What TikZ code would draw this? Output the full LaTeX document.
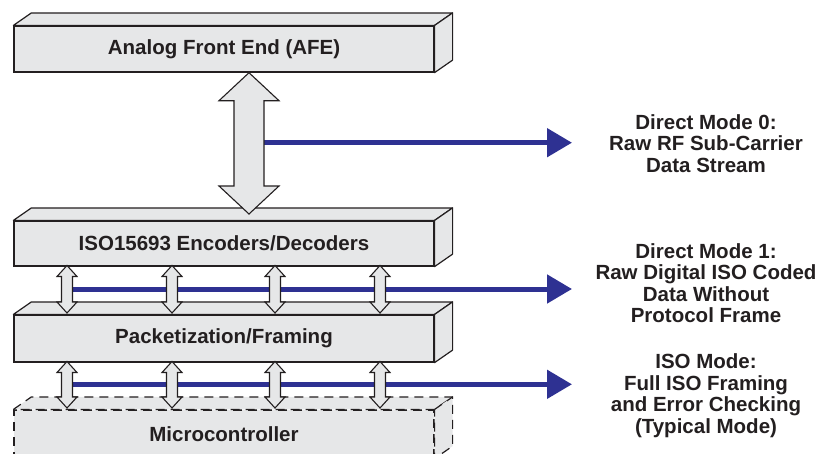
\documentclass[tikz,border=0pt]{standalone}
\usepackage{fontspec}
\setmainfont{Liberation Sans}
\usetikzlibrary{arrows.meta,calc}
\definecolor{facegray}{RGB}{230,231,232}
\definecolor{linkblue}{RGB}{46,49,146}
\definecolor{ink}{RGB}{35,31,32}
\newcommand\boxsides[2][side]{%
  \draw[#1] (#2.north west) -- ++(18,-12.5) -- ($(#2.north east)+(18,-12.5)$) -- (#2.north east) -- cycle;
  \draw[#1] (#2.north east) -- ++(18,-12.5) -- ($(#2.south east)+(18,-12.5)$) -- (#2.south east) -- cycle;}
\newcommand\dblarrow[6]{%
  \draw[dbl] (#1,#2) -- (#1+#5,#2+#6) -- (#1+#4,#2+#6) -- (#1+#4,#3-#6) -- (#1+#5,#3-#6) -- (#1,#3)
   -- (#1-#5,#3-#6) -- (#1-#4,#3-#6) -- (#1-#4,#2+#6) -- (#1-#5,#2+#6) -- cycle;}
\begin{document}
\begin{tikzpicture}[x=1pt,y=-1pt,
  face/.style={draw=ink, fill=facegray, line width=1.2pt, minimum width=420pt, inner sep=0pt,
    font=\fontsize{20.5}{22}\selectfont\bfseries, text=ink},
  side/.style={draw=ink, fill=facegray, line width=1.2pt, line join=round},
  dface/.style={face, dash pattern=on 9pt off 6pt},
  dside/.style={side, dash pattern=on 9pt off 6pt},
  dbl/.style={draw=ink, fill=facegray, line width=1.1pt},
  link/.style={draw=linkblue, line width=5pt, -{Triangle[length=25pt,width=28pt,fill=linkblue]}},
  lbl/.style={align=center, font=\fontsize{20.5}{21.5}\selectfont\bfseries, text=ink}]
\useasboundingbox (0,0) rectangle (822,453);

% boxes
\node[face, minimum height=46pt] (afe) at (224,49) {Analog Front End (AFE)};
\boxsides{afe}
\node[face, minimum height=45pt] (enc) at (224,243.5) {ISO15693 Encoders/Decoders};
\boxsides{enc}
\node[face, minimum height=47pt] (pack) at (224,338.5) {Packetization/Framing};
\boxsides{pack}
\node[dface, minimum height=48pt] (mcu) at (224,434) {Microcontroller};
\boxsides[dside]{mcu}

% right labels
\node[lbl] (m0) at (706,143.4) {Direct Mode 0:\\Raw RF Sub-Carrier\\Data Stream};
\node[lbl] (m1) at (706,283.4) {Direct Mode 1:\\Raw Digital ISO Coded\\Data Without\\Protocol Frame};
\node[lbl] (m2) at (706,395.5) {ISO Mode:\\Full ISO Framing\\and Error Checking\\(Typical Mode)};

\coordinate (t0) at (572,142.7);
\coordinate (t1) at (572,289);
\coordinate (t2) at (572,384.3);

% blue links
\draw[link] (264,142.7) -- (t0);
\draw[link] (72,289) -- (t1);
\draw[link] (72,384.3) -- (t2);

% double arrows
\dblarrow{249}{72.7}{214}{15}{30}{28}
\foreach \x in {67,172,275,380}{
  \dblarrow{\x}{265.5}{313}{5.5}{10}{11}
  \dblarrow{\x}{361.5}{408}{5.5}{10}{11}
}
\end{tikzpicture}
\end{document}
